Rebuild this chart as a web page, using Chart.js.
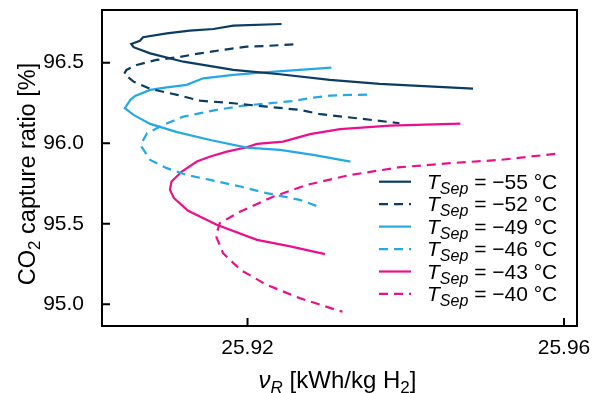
<!DOCTYPE html>
<html><head><meta charset="utf-8">
<script src="https://cdn.jsdelivr.net/npm/chart.js@4/dist/chart.umd.min.js"></script>
<style>html,body{margin:0;padding:0;background:#fff}#wrap{width:595px;height:393px;position:relative}</style>
</head><body><div id="wrap"><canvas id="c" width="595" height="393"></canvas></div>
<script>
// ---- data ----
const xTicks = [25.92, 25.96];
const yTicks = [95.0, 95.5, 96.0, 96.5];
const tempLabels = ['−55', '−52', '−49', '−46', '−43', '−40'];

const x55 = [25.9243,25.9182,25.9157,25.9127,25.9098,25.9068,25.9064,25.9053,25.9056,25.9077,25.9119,25.9182,25.9241,25.9304,25.9367,25.9485];
const y55 = [96.740,96.730,96.709,96.699,96.682,96.658,96.636,96.616,96.596,96.558,96.506,96.455,96.428,96.393,96.368,96.339];

const x52 = [25.9258,25.9224,25.9199,25.9174,25.9140,25.9111,25.9085,25.9060,25.9047,25.9044,25.9056,25.9077,25.9111,25.9140,25.9182,25.9224,25.9266,25.9292,25.9338,25.9392];
const y52 = [96.613,96.604,96.599,96.583,96.558,96.533,96.517,96.486,96.455,96.430,96.382,96.337,96.300,96.264,96.248,96.227,96.207,96.180,96.155,96.124];

const x49 = [25.9306,25.9266,25.9216,25.9182,25.9144,25.9123,25.9098,25.9077,25.9058,25.9052,25.9045,25.9056,25.9077,25.9111,25.9153,25.9199,25.9241,25.9283,25.9330];
const y49 = [96.469,96.455,96.438,96.424,96.403,96.362,96.347,96.331,96.293,96.269,96.217,96.176,96.120,96.069,96.020,95.973,95.958,95.927,95.886];

const x46 = [25.9351,25.9329,25.9304,25.9283,25.9258,25.9195,25.9161,25.9119,25.9094,25.9073,25.9066,25.9066,25.9077,25.9098,25.9123,25.9153,25.9191,25.9224,25.9266,25.9287];
const y46 = [96.301,96.300,96.295,96.283,96.262,96.233,96.207,96.165,96.114,96.062,96.000,95.979,95.896,95.845,95.803,95.772,95.731,95.690,95.648,95.611];

const x43 = [25.9469,25.9380,25.9317,25.9279,25.9245,25.9212,25.9199,25.9174,25.9153,25.9136,25.9117,25.9104,25.9102,25.9107,25.9125,25.9161,25.9212,25.9254,25.9298];
const y43 = [96.122,96.109,96.087,96.056,96.010,95.996,95.975,95.948,95.917,95.886,95.824,95.762,95.710,95.659,95.580,95.493,95.400,95.359,95.311];

const x40 = [25.9589,25.9519,25.9456,25.9393,25.9330,25.9275,25.9233,25.9191,25.9165,25.9160,25.9169,25.9191,25.9224,25.9266,25.9320];
const y40 = [95.934,95.896,95.876,95.851,95.803,95.741,95.669,95.576,95.504,95.425,95.318,95.214,95.121,95.038,94.953];

const seriesX = [x55, x52, x49, x46, x43, x40];
const seriesY = [y55, y52, y49, y46, y43, y40];
const colors = ['#0b3c63', '#0b3c63', '#25a9e6', '#25a9e6', '#ec0f8c', '#ec0f8c'];
const dashed = [false, true, false, true, false, true];

const FONT = "'Liberation Sans', Arial, Helvetica, sans-serif";

const datasets = seriesX.map((xs, i) => ({
  label: 'T_Sep = ' + tempLabels[i] + ' °C',
  data: xs.map((x, j) => ({x: x, y: seriesY[i][j]})),
  showLine: true,
  borderColor: colors[i],
  backgroundColor: colors[i],
  borderWidth: 2.2,
  borderDash: dashed[i] ? [9, 6] : [],
  pointRadius: 0,
  tension: 0,
  fill: false
}));

function drawRich(ctx, parts, x, y, align) {
  let total = 0;
  parts.forEach(p => {
    ctx.font = (p.italic ? 'italic ' : '') + p.size + 'px ' + FONT;
    p.w = ctx.measureText(p.t).width;
    total += p.w;
  });
  let cx = align === 'center' ? x - total / 2 : x;
  parts.forEach(p => {
    ctx.font = (p.italic ? 'italic ' : '') + p.size + 'px ' + FONT;
    ctx.fillText(p.t, cx, y + (p.dy || 0));
    cx += p.w;
  });
}

const decorPlugin = {
  id: 'decor',
  afterDraw(chart) {
    const ctx = chart.ctx;
    const a = chart.chartArea;
    const xs = chart.scales.x, ys = chart.scales.y;
    ctx.save();
    ctx.strokeStyle = '#000';
    ctx.lineWidth = 2;
    ctx.setLineDash([]);
    ctx.strokeRect(a.left, a.top, a.right - a.left, a.bottom - a.top);
    // inward ticks
    ctx.beginPath();
    yTicks.forEach(v => { const p = ys.getPixelForValue(v); ctx.moveTo(a.left, p); ctx.lineTo(a.left + 8, p); });
    xTicks.forEach(v => { const p = xs.getPixelForValue(v); ctx.moveTo(p, a.bottom); ctx.lineTo(p, a.bottom - 8); });
    ctx.stroke();

    ctx.fillStyle = '#000';
    ctx.textBaseline = 'alphabetic';
    // x axis title
    drawRich(ctx, [
      {t: 'ν', italic: true, size: 24},
      {t: 'R', italic: true, size: 17, dy: 5},
      {t: ' [kWh/kg H', size: 24},
      {t: '2', size: 17, dy: 5},
      {t: ']', size: 24}
    ], (a.left + a.right) / 2 - 2, 388, 'center');
    // y axis title
    ctx.save();
    ctx.translate(35, (a.top + a.bottom) / 2 + 6);
    ctx.rotate(-Math.PI / 2);
    drawRich(ctx, [
      {t: 'CO', size: 23.5},
      {t: '2', size: 17, dy: 5},
      {t: ' capture ratio [%]', size: 23.5}
    ], 0, 0, 'center');
    ctx.restore();

    // legend
    const rowY0 = 181.7, rowStep = 22.45;
    chart.data.datasets.forEach((ds, i) => {
      const y = rowY0 + i * rowStep;
      ctx.beginPath();
      ctx.strokeStyle = ds.borderColor;
      ctx.lineWidth = 2.2;
      ctx.setLineDash(ds.borderDash);
      ctx.moveTo(379, y);
      ctx.lineTo(411, y);
      ctx.stroke();
      ctx.setLineDash([]);
      ctx.fillStyle = '#000';
      drawRich(ctx, [
        {t: 'T', italic: true, size: 21},
        {t: 'Sep', italic: true, size: 16, dy: 5},
        {t: ' = ' + tempLabels[i] + ' °C', size: 21}
      ], 427, y + 7, 'left');
    });
    ctx.restore();
  }
};

function noPad(s) { s.paddingTop = 0; s.paddingBottom = 0; s.paddingLeft = 0; s.paddingRight = 0; }

new Chart(document.getElementById('c'), {
  type: 'scatter',
  data: { datasets: datasets },
  options: {
    responsive: false,
    animation: false,
    devicePixelRatio: 1,
    layout: { padding: { left: 0, right: 18, top: 10, bottom: 0 } },
    plugins: { legend: { display: false }, tooltip: { enabled: false } },
    scales: {
      x: {
        type: 'linear', min: 25.90161, max: 25.96164,
        grid: { display: false }, border: { display: false },
        ticks: { font: { family: FONT, size: 21 }, color: '#000', padding: 2, maxRotation: 0,
                 callback: v => Number(v).toFixed(2) },
        afterBuildTicks: s => { s.ticks = xTicks.map(v => ({ value: v })); },
        afterFit: s => { s.height = 67; noPad(s); }
      },
      y: {
        type: 'linear', min: 94.865, max: 96.827,
        grid: { display: false }, border: { display: false },
        ticks: { font: { family: FONT, size: 21 }, color: '#000', padding: 10,
                 callback: v => Number(v).toFixed(1) },
        afterBuildTicks: s => { s.ticks = yTicks.map(v => ({ value: v })); },
        afterFit: s => { s.width = 102; noPad(s); }
      }
    }
  },
  plugins: [decorPlugin]
});
</script>
</body></html>
